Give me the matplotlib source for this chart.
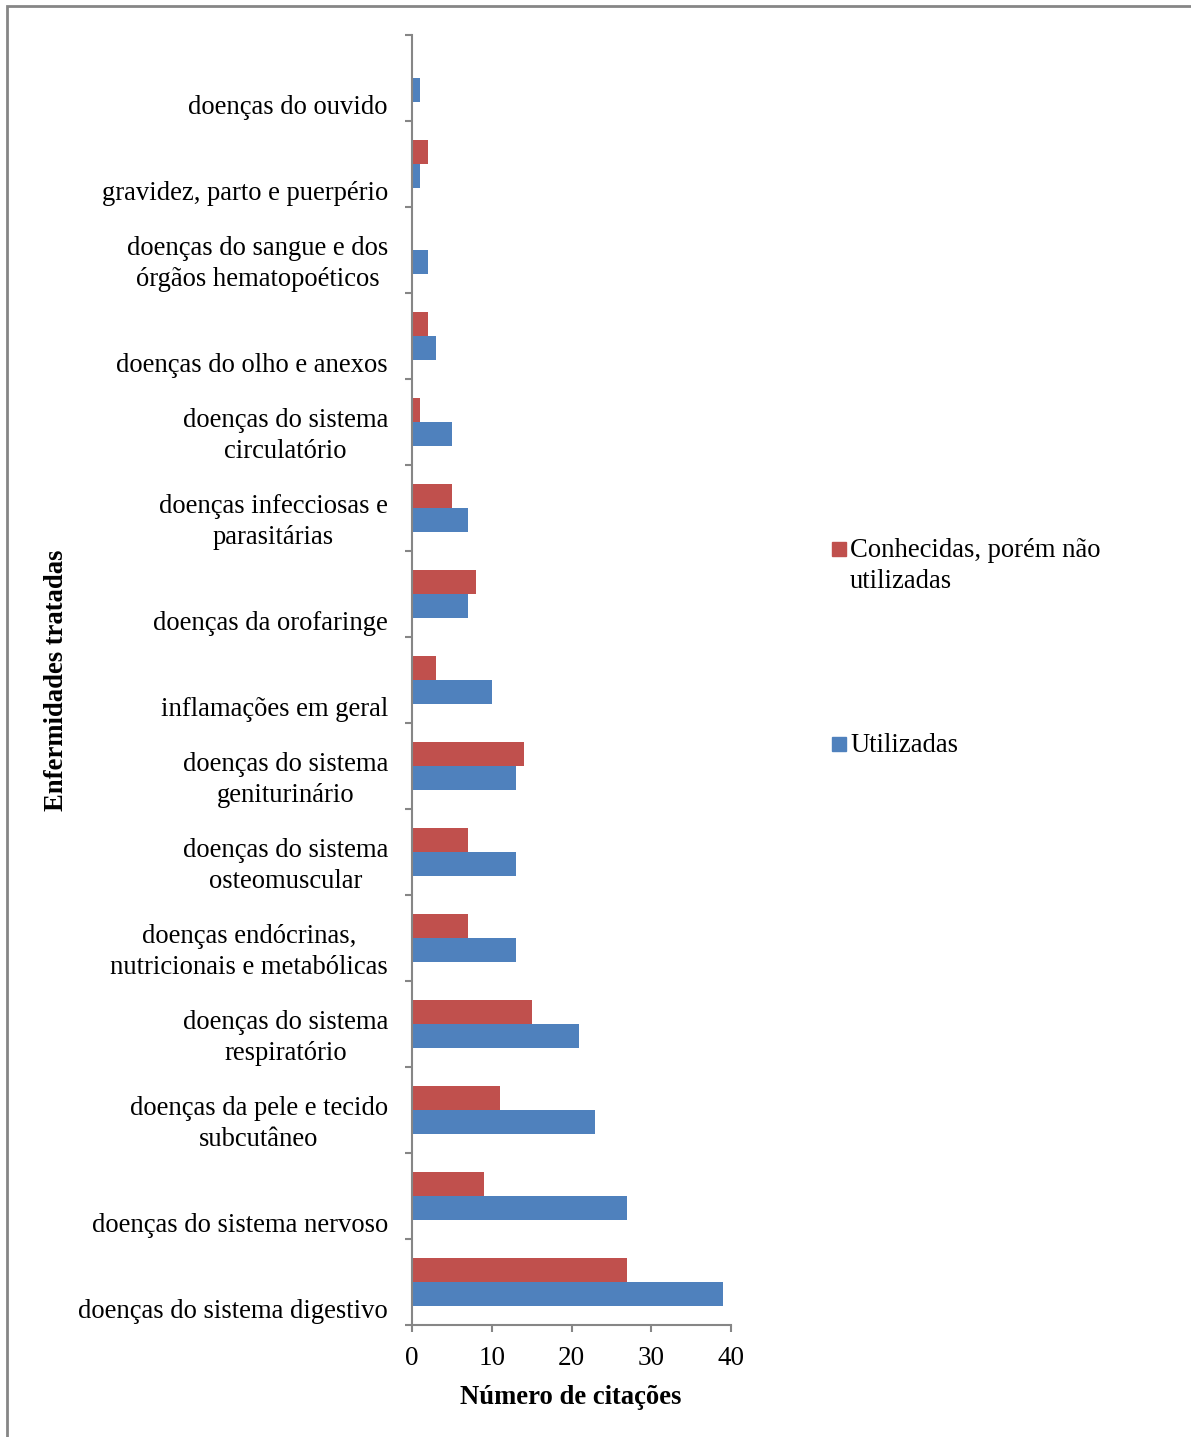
import matplotlib.pyplot as plt
import matplotlib.transforms as mtransforms
from matplotlib.patches import Rectangle
import numpy as np

plt.rcParams['font.family'] = ['Liberation Serif', 'DejaVu Serif']

# categorias, de baixo para cima
categorias = [
    'doenças do sistema digestivo',
    'doenças do sistema nervoso',
    'doenças da pele e tecido\nsubcutâneo',
    'doenças do sistema\nrespiratório',
    'doenças endócrinas,\nnutricionais e metabólicas',
    'doenças do sistema\nosteomuscular',
    'doenças do sistema\ngeniturinário',
    'inflamações em geral',
    'doenças da orofaringe',
    'doenças infecciosas e\nparasitárias',
    'doenças do sistema\ncirculatório',
    'doenças do olho e anexos',
    'doenças do sangue e dos\nórgãos hematopoéticos',
    'gravidez, parto e puerpério',
    'doenças do ouvido',
]
utilizadas = [39, 27, 23, 21, 13, 13, 13, 10, 7, 7, 5, 3, 2, 1, 1]
conhecidas = [27, 9, 11, 15, 7, 7, 14, 3, 8, 5, 1, 2, 0, 2, 0]
xticks = [0, 10, 20, 30, 40]

vermelho = '#C0504D'
azul = '#4F81BD'
cinza = '#868686'
fs = 19.2
W, H = 1191, 1437

fig = plt.figure(figsize=(W / 100, H / 100), dpi=100)
ax = fig.add_axes([412 / W, 1 - 1325 / H, 319 / W, 1290 / H])

y = np.arange(len(categorias))
h = 0.28
ax.barh(y + h / 2, conhecidas, height=h, color=vermelho)
ax.barh(y - h / 2, utilizadas, height=h, color=azul)

ax.set_xlim(0, 40)
ax.set_ylim(-0.5, len(categorias) - 0.5)
ax.set_xticks(xticks)
ax.set_yticks(np.arange(-0.5, len(categorias), 1.0))
ax.set_yticklabels([])
ax.tick_params(axis='x', direction='out', length=5, width=1.5, color=cinza,
               labelsize=19.5, pad=10)
ax.tick_params(axis='y', direction='out', length=5, width=1.5, color=cinza)
for s in ['top', 'right']:
    ax.spines[s].set_visible(False)
for s in ['left', 'bottom']:
    ax.spines[s].set_color(cinza)
    ax.spines[s].set_linewidth(1.5)

# rótulos das categorias, alinhados na parte de baixo de cada faixa
trans = mtransforms.offset_copy(ax.get_yaxis_transform(), fig=fig, x=-24, y=0, units='dots')
for i, nome in enumerate(categorias):
    dy = -0.16 if '\n' in nome else -0.34
    ax.text(0, i + dy, nome, transform=trans, ha='right', va='center',
            multialignment='center', fontsize=fs, linespacing=1.3)

fig.text(571 / W, 1 - 1398 / H, 'Número de citações', ha='center', va='center',
         fontsize=fs, fontweight='bold')
fig.text(57 / W, 1 - 680 / H, 'Enfermidades tratadas', ha='center', va='center',
         rotation=90, fontsize=fs, fontweight='bold')

# legenda
for cor, topo, texto, ty in [(vermelho, 542, 'Conhecidas, porém não\nutilizadas', 566),
                            (azul, 737, 'Utilizadas', 745)]:
    fig.patches.append(Rectangle((832 / W, 1 - (topo + 14) / H), 14 / W, 14 / H,
                                 transform=fig.transFigure, color=cor))
    fig.text(850 / W, 1 - ty / H, texto, ha='left', va='center',
             fontsize=fs, linespacing=1.3)

# moldura externa
fig.patches.append(Rectangle((7 / W, -0.1), 1.2, 1 - 6 / H + 0.1,
                             transform=fig.transFigure, fill=False,
                             edgecolor=cinza, linewidth=2))

fig.savefig('out.png', dpi=100)
